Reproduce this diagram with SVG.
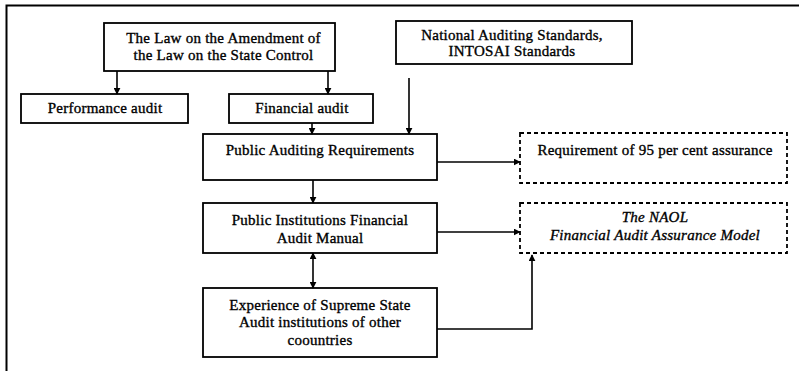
<svg xmlns="http://www.w3.org/2000/svg" width="799" height="371" viewBox="0 0 799 371">
<style>
.box{fill:#fff;stroke:#000;stroke-width:1.8}
.dbox{fill:#fff;stroke:#000;stroke-width:1.8;stroke-dasharray:4 3}
.t{font-family:"Liberation Serif","Times New Roman",serif;font-size:15px;letter-spacing:0.25px;fill:#000;stroke:#000;stroke-width:0.35;text-anchor:middle}
.i{font-style:italic}
.c{fill:none;stroke:#000;stroke-width:1.6}
</style>
<defs>
<marker id="ah" viewBox="0 0 10 10" refX="9" refY="5" markerWidth="7" markerHeight="7" markerUnits="userSpaceOnUse" orient="auto-start-reverse">
<path d="M0,0 L10,5 L0,10 z" fill="#000"/>
</marker>
</defs>
<g id="frame"><path d="M6.5,371 V5.5 H799" fill="none" stroke="#000" stroke-width="2"/></g>
<g id="law"><rect class="box" x="104" y="23" width="231" height="48"/>
<text class="t" x="223.5" y="43.3">The Law on the Amendment of</text>
<text class="t" x="223.5" y="60">the Law on the State Control</text></g>
<g id="national"><rect class="box" x="396" y="21" width="236" height="43"/>
<text class="t" x="512" y="39.5">National Auditing Standards,</text>
<text class="t" x="512" y="56.2">INTOSAI Standards</text></g>
<g id="performance"><rect class="box" x="21" y="94" width="167" height="29"/>
<text class="t" x="105" y="113">Performance audit</text></g>
<g id="financial"><rect class="box" x="229" y="94" width="144" height="29"/>
<text class="t" x="302" y="113">Financial audit</text></g>
<g id="par"><rect class="box" x="203" y="134" width="234" height="46"/>
<text class="t" x="320" y="155">Public Auditing Requirements</text></g>
<g id="pifam"><rect class="box" x="203" y="203" width="234" height="50"/>
<text class="t" x="320" y="225">Public Institutions Financial</text>
<text class="t" x="320" y="243">Audit Manual</text></g>
<g id="experience"><rect class="box" x="203" y="288" width="234" height="69"/>
<text class="t" x="320" y="310">Experience of Supreme State</text>
<text class="t" x="320" y="327">Audit institutions of other</text>
<text class="t" x="320" y="345">coountries</text></g>
<g id="req95"><rect class="dbox" x="520" y="133" width="267" height="50"/>
<text class="t" x="655" y="155">Requirement of 95 per cent assurance</text></g>
<g id="naol"><rect class="dbox" x="520" y="203" width="267" height="50"/>
<text class="t i" x="655" y="222">The NAOL</text>
<text class="t i" x="655" y="240">Financial Audit Assurance Model</text></g>
<g id="connectors">
<path class="c" d="M117,71 V94" marker-end="url(#ah)"/>
<path class="c" d="M328,71 V94" marker-end="url(#ah)"/>
<path class="c" d="M312,123 V134" marker-end="url(#ah)"/>
<path class="c" d="M409,78 V134" marker-end="url(#ah)"/>
<path class="c" d="M313,180 V203" marker-end="url(#ah)"/>
<path class="c" d="M313,253 V288" marker-start="url(#ah)" marker-end="url(#ah)"/>
<path class="c" d="M437,162 H520" marker-end="url(#ah)"/>
<path class="c" d="M437,232 H520" marker-end="url(#ah)"/>
<path class="c" d="M437,329 H532 V255" marker-end="url(#ah)"/>
</g>
</svg>
